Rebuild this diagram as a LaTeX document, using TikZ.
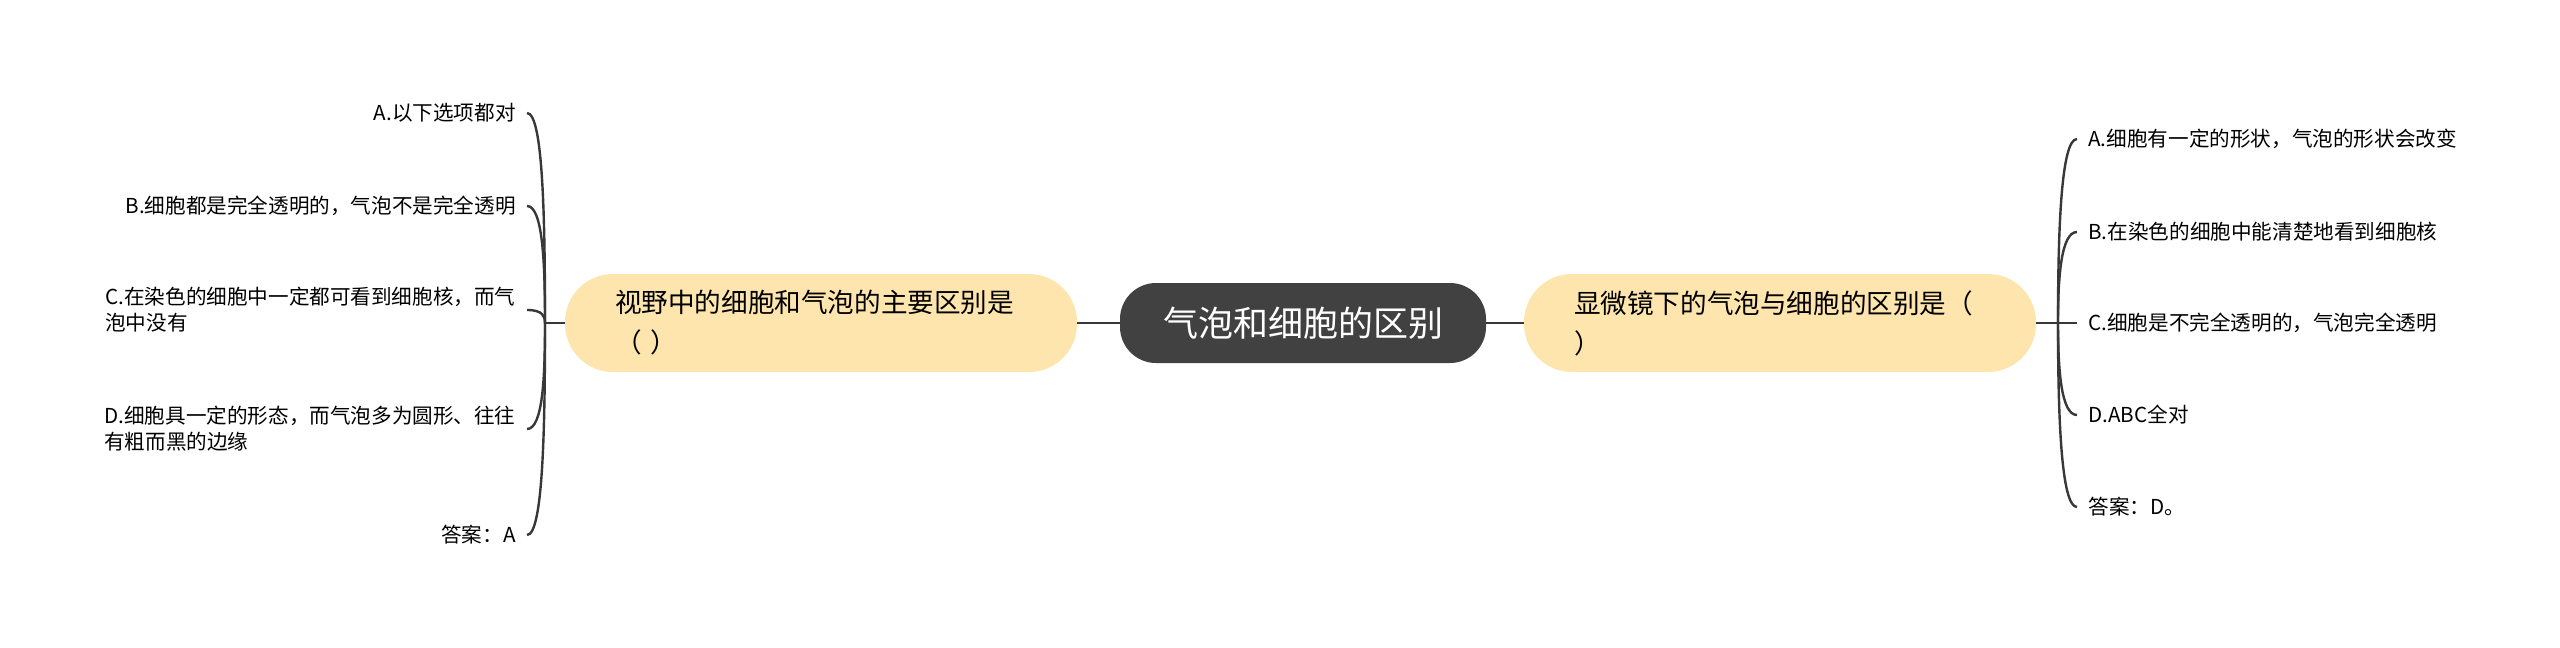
\documentclass[tikz,border=0pt]{standalone}
\usepackage{fontspec}
\setmainfont{Noto Sans CJK SC}
\usetikzlibrary{calc}
\definecolor{rootfill}{HTML}{414141}
\definecolor{topicfill}{HTML}{FDE5AD}
\definecolor{linkgray}{HTML}{383838}

\begin{document}
\begin{tikzpicture}[x=0.5pt, y=-0.5pt]

\tikzstyle{root}=[rectangle, rounded corners=18pt, fill=rootfill, text=white, minimum width=183pt, minimum height=40pt, font=\fontsize{17.5}{21}\selectfont]
\tikzstyle{topic}=[rectangle, rounded corners=24pt, fill=topicfill, text width=206pt, inner xsep=25pt, minimum height=49pt, align=left, font=\fontsize{13.3}{20}\selectfont]
\tikzstyle{leafl}=[anchor=east, align=left, inner xsep=5.5pt, inner ysep=0pt, font=\fontsize{10.3}{13}\selectfont]
\tikzstyle{leafr}=[anchor=west, align=left, inner xsep=5.5pt, inner ysep=0pt, font=\fontsize{10.3}{13}\selectfont]
\tikzstyle{link}=[draw=linkgray, line width=1.2pt]

\useasboundingbox (0,0) rectangle (2560,648);

% centre and the two questions
\node (R) [root] at (1303,323) {气泡和细胞的区别};
\node (L) [topic] at (821,323) {视野中的细胞和气泡的主要区别是\\（ ）};
\node (Q) [topic] at (1780,323) {显微镜下的气泡与细胞的区别是（\\）};

\coordinate (lhub) at (545,323);
\coordinate (rhub) at (2058,323);

% left answers
\node (lA) [leafl] at (527,113) {A.以下选项都对};
\node (lB) [leafl] at (527,206) {B.细胞都是完全透明的，气泡不是完全透明};
\node (lC) [leafl] at (527,310) {C.在染色的细胞中一定都可看到细胞核，而气\\泡中没有};
\node (lD) [leafl] at (527,429) {D.细胞具一定的形态，而气泡多为圆形、往往\\有粗而黑的边缘};
\node (lE) [leafl] at (527,535) {答案：A};

% right answers
\node (rA) [leafr] at (2077,139) {A.细胞有一定的形状，气泡的形状会改变};
\node (rB) [leafr] at (2077,232) {B.在染色的细胞中能清楚地看到细胞核};
\node (rC) [leafr] at (2077,323) {C.细胞是不完全透明的，气泡完全透明};
\node (rD) [leafr] at (2077,415) {D.ABC全对};
\node (rE) [leafr] at (2077,507) {答案：D。};

\draw [link] (R) -- (L);
\draw [link] (R) -- (Q);
\draw [link] (L) -- (lhub);
\draw [link] (Q) -- (rhub);

\foreach \n in {lA,lB,lC,lD,lE}
  \draw [link] (lhub) .. controls ($(lhub)!0.5!(lhub |- \n.east)$) and +(16,0) .. (\n.east);
\foreach \n in {rA,rB,rC,rD,rE}
  \draw [link] (rhub) .. controls ($(rhub)!0.5!(rhub |- \n.west)$) and +(-16,0) .. (\n.west);

\end{tikzpicture}
\end{document}
